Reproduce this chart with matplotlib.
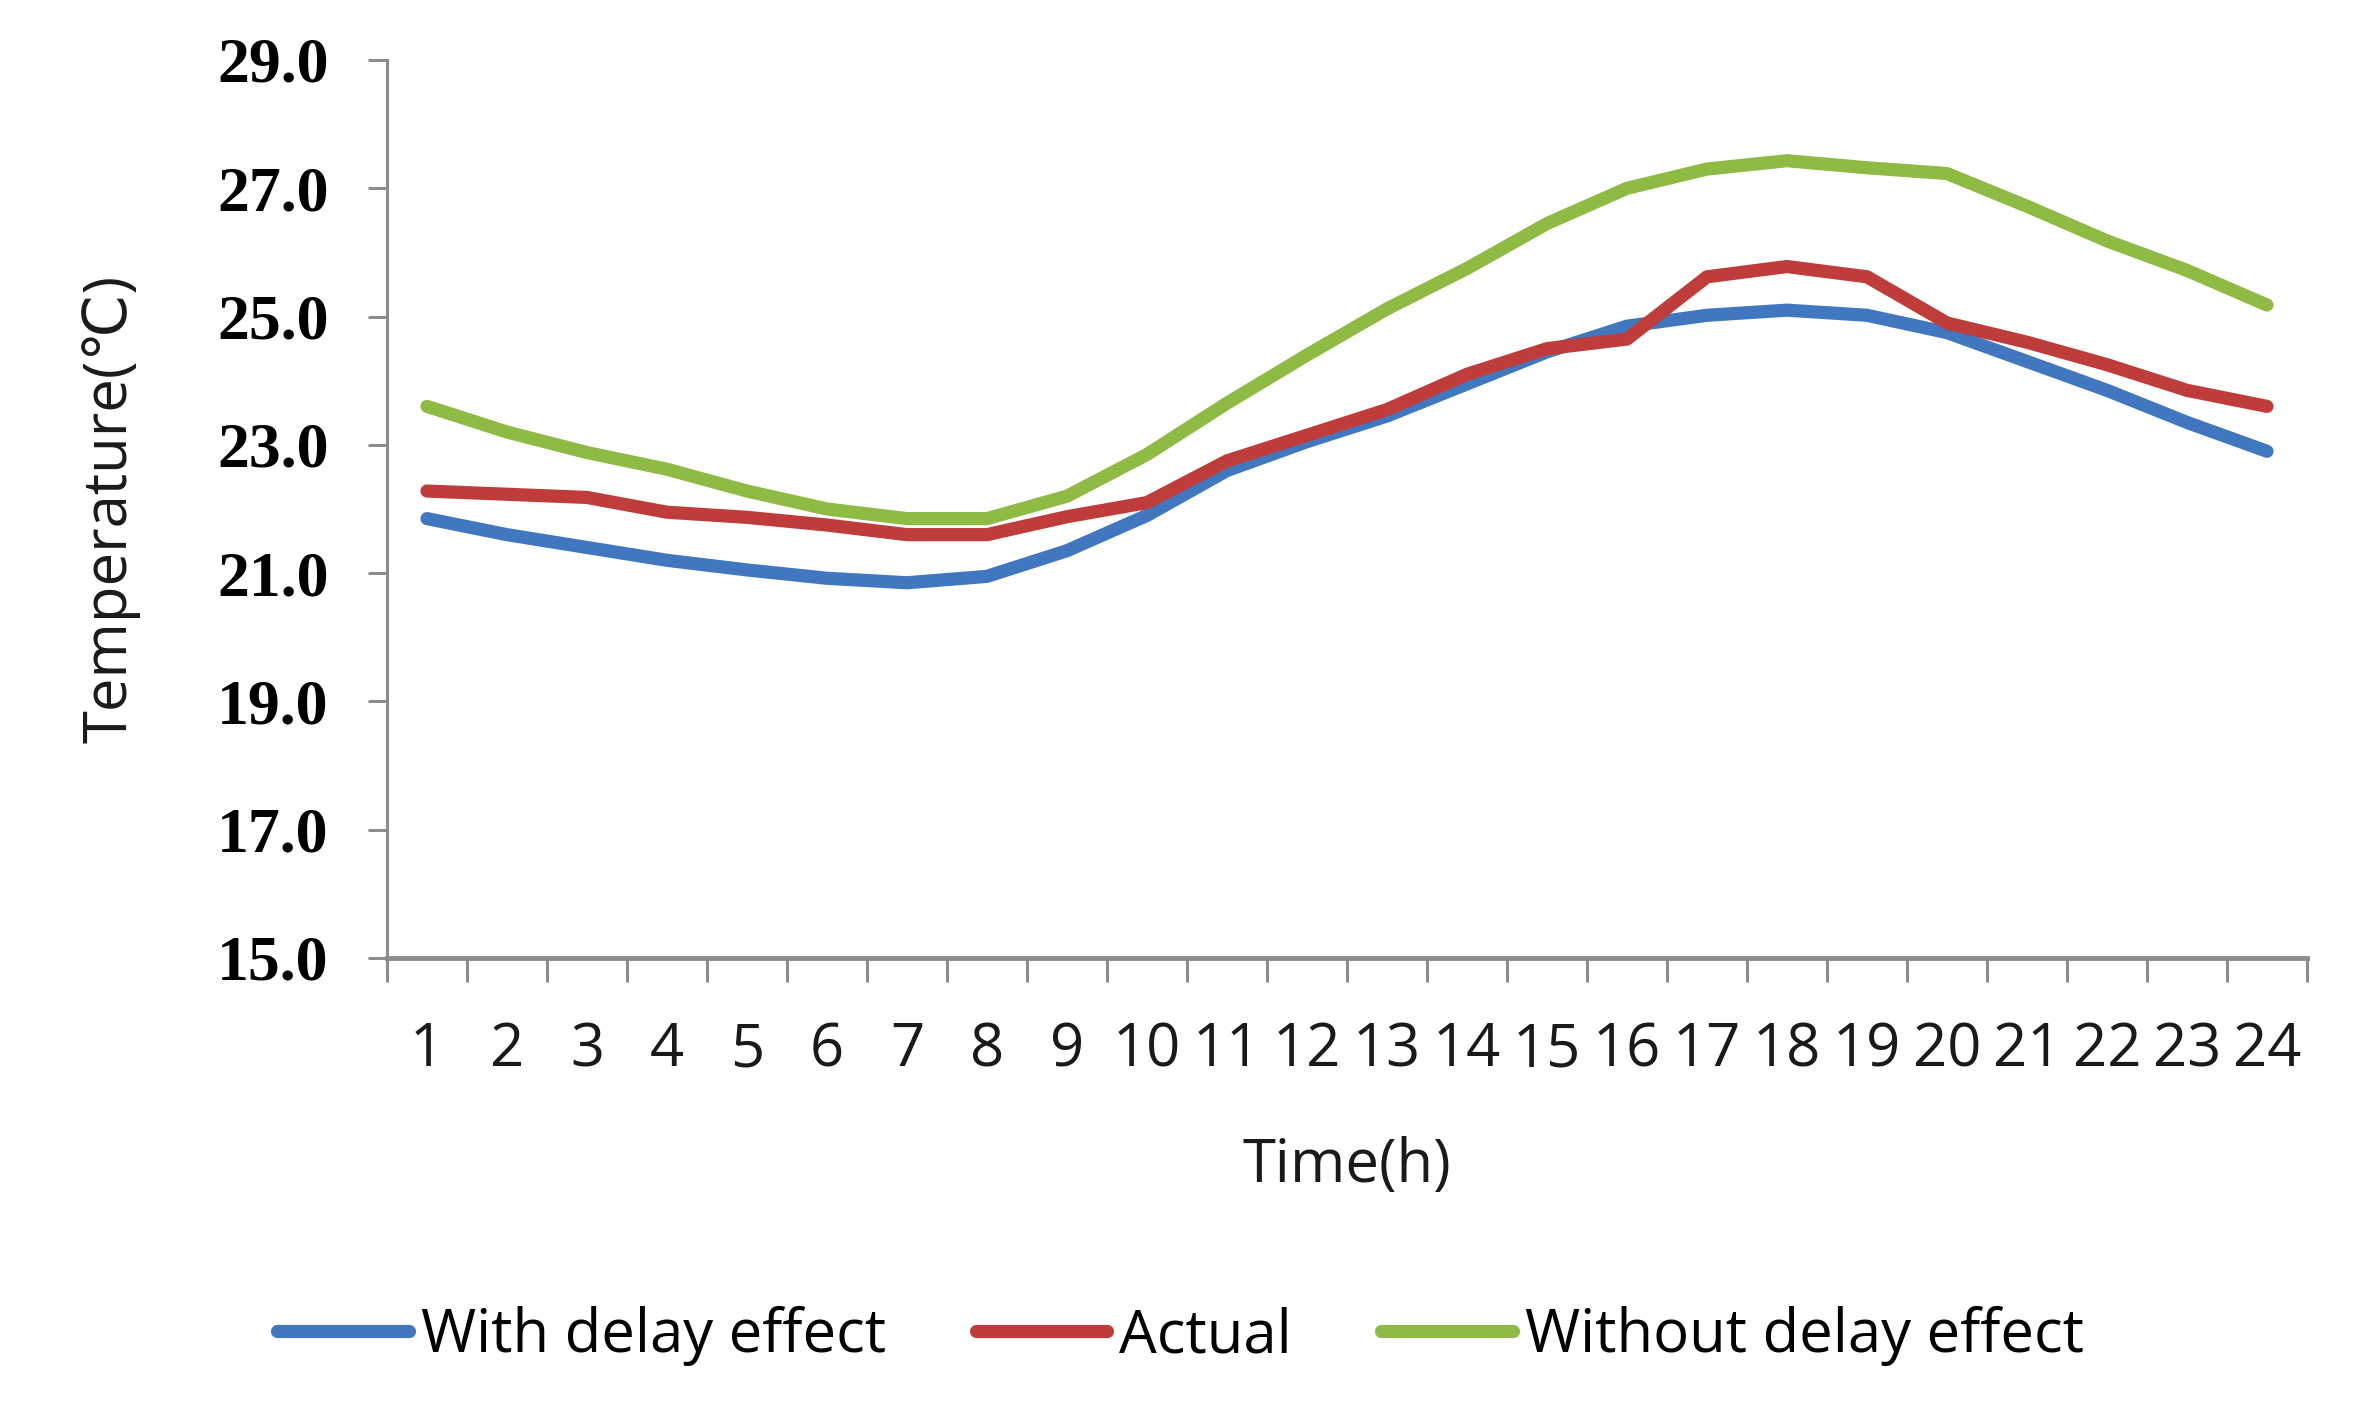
import numpy as np
import matplotlib
matplotlib.use("Agg")
from matplotlib import pyplot as plt
from matplotlib.ticker import FormatStrFormatter

hours = list(range(1, 25))
temp_ticks = [15, 17, 19, 21, 23, 25, 27, 29]

with_delay = [21.85, 21.6, 21.4, 21.2, 21.05, 20.92, 20.85, 20.95, 21.35, 21.9, 22.6, 23.05,
              23.45, 23.95, 24.45, 24.85, 25.02, 25.1, 25.02, 24.75, 24.3, 23.85, 23.35, 22.9]
actual = [22.28, 22.23, 22.18, 21.95, 21.87, 21.75, 21.6, 21.6, 21.88, 22.1, 22.75, 23.15,
          23.55, 24.1, 24.5, 24.65, 25.62, 25.78, 25.62, 24.9, 24.6, 24.25, 23.85, 23.6]
without_delay = [23.6, 23.2, 22.88, 22.62, 22.28, 22.0, 21.85, 21.85, 22.2, 22.85, 23.65, 24.4,
                 25.12, 25.75, 26.45, 27.0, 27.3, 27.43, 27.32, 27.23, 26.72, 26.18, 25.72, 25.18]

labels = ["With delay effect", "Actual", "Without delay effect"]
colors = ["#4177BE", "#BE3C3A", "#8FBB45"]

sans = ["Open Sans", "DejaVu Sans"]
W, H = 2361, 1414

fig = plt.figure(figsize=(W / 100, H / 100), dpi=100)
ax = fig.add_axes([387 / W, 1 - 958 / H, (2307 - 387) / W, (958 - 60) / H])

for ys, c, lab in zip([with_delay, actual, without_delay], colors, labels):
    ax.plot(hours, ys, color=c, lw=9.5, label=lab, solid_joinstyle="round", solid_capstyle="round")

ax.set_xlim(0.5, 24.5)
ax.set_ylim(15, 29)

ax.set_yticks(temp_ticks)
ax.yaxis.set_major_formatter(FormatStrFormatter("%.1f"))
ax.set_xticks(hours)
ax.set_xticks(np.arange(0.5, 25, 1), minor=True)

gray = "#8C8C8C"
for s in ["top", "right"]:
    ax.spines[s].set_visible(False)
ax.spines["left"].set_color(gray)
ax.spines["left"].set_linewidth(2.2)
ax.spines["bottom"].set_color(gray)
ax.spines["bottom"].set_linewidth(3.5)

ax.tick_params(axis="y", which="major", direction="out", length=14, width=2.2, color=gray, pad=28)
ax.tick_params(axis="x", which="major", length=0, pad=45)
ax.tick_params(axis="x", which="minor", direction="out", length=17, width=2.2, color=gray)

for t in ax.get_yticklabels():
    t.set_fontfamily("Liberation Serif")
    t.set_fontweight("bold")
    t.set_fontsize(46)
for t in ax.get_xticklabels():
    t.set_fontfamily(sans)
    t.set_fontsize(43)
    t.set_color("#1a1a1a")

ax.set_xlabel("Time(h)", family=sans, fontsize=43, color="#1a1a1a", labelpad=40)
ax.set_ylabel("Temperature(℃)", family=sans, fontsize=43, color="#1a1a1a", labelpad=55)

fig.legend(loc="center", bbox_to_anchor=(0.5, 1 - 1336 / H), ncol=3, frameon=False,
           prop={"family": sans, "size": 43}, handlelength=2.2, handletextpad=0.2,
           columnspacing=1.5)

fig.savefig("out.png", dpi=100, facecolor="white")
